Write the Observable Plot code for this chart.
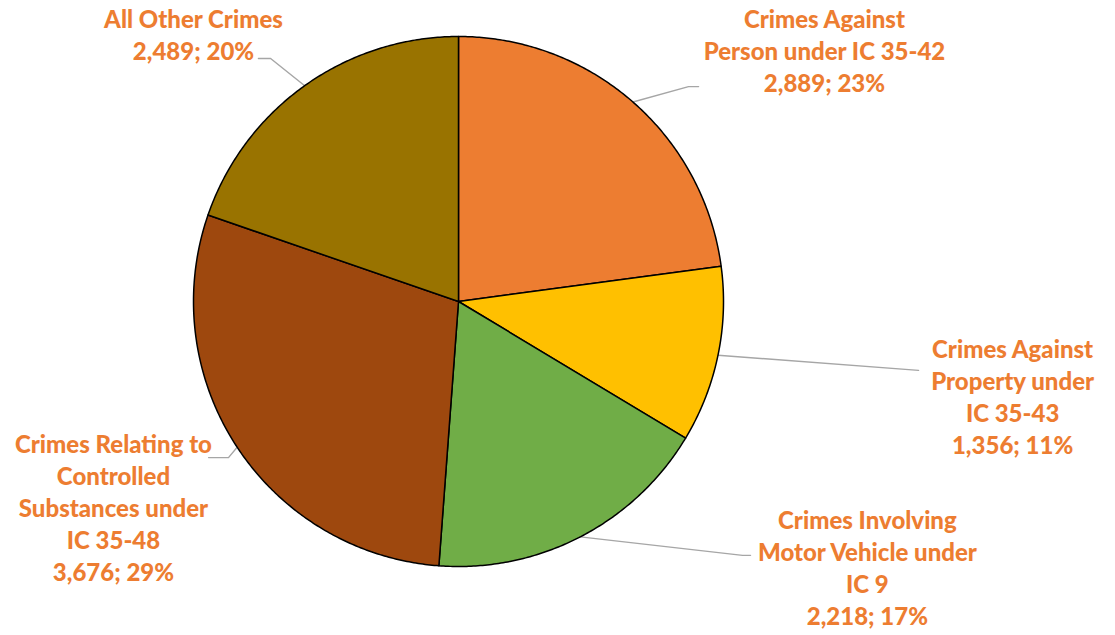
<!DOCTYPE html>
<html>
<head>
<meta charset="utf-8">
<script src="https://cdn.jsdelivr.net/npm/d3@7"></script>
<script src="https://cdn.jsdelivr.net/npm/@observablehq/plot@0.6"></script>
<style>
  html, body { margin: 0; padding: 0; background: #fff; }
  #chart { width: 1115px; height: 635px; }
</style>
</head>
<body>
<div id="chart"></div>
<script>
// ---- data ----
const categories = [
  "Crimes Against Person under IC 35-42",
  "Crimes Against Property under IC 35-43",
  "Crimes Involving Motor Vehicle under IC 9",
  "Crimes Relating to Controlled Substances under IC 35-48",
  "All Other Crimes"
];
const labelNames = [
  "Crimes Against\nPerson under IC 35-42",
  "Crimes Against\nProperty under\nIC 35-43",
  "Crimes Involving\nMotor Vehicle under\nIC 9",
  "Crimes Relating to\nControlled\nSubstances under\nIC 35-48",
  "All Other Crimes"
];
const values = [2889, 1356, 2218, 3676, 2489];
const percentLabels = ["23%", "11%", "17%", "29%", "20%"];

// ---- styling / layout (not data) ----
const colors = ["#ED7D31", "#FFC000", "#70AD47", "#9E480E", "#997300"];
// label anchor (center of text block) and leader-line bend points, in pie-radius units
const labelPos = [[1.381, 0.951], [2.091, -0.357], [1.543, -1.002], [-1.302, -0.775], [-1.0, 1.009]];
const leaderBends = [
  [[0.868, 0.811], [0.906, 0.811]],
  [[1.736, -0.260]],
  [[1.072, -0.958], [1.102, -0.958]],
  [[-0.868, -0.589], [-0.943, -0.589]],
  [[-0.709, 0.917], [-0.755, 0.917]]
];

const rows = categories.map((c, i) => ({name: c, value: values[i]}));
const arcs = d3.pie().sort(null).value(d => d.value).startAngle(0).endAngle(2 * Math.PI)(rows);

// wedges as closed polygons
const wedgePts = [];
arcs.forEach(a => {
  const name = a.data.name;
  wedgePts.push({name, x: 0, y: 0});
  const n = Math.max(2, Math.ceil((a.endAngle - a.startAngle) / (Math.PI / 360)));
  for (let k = 0; k <= n; k++) {
    const t = a.startAngle + (a.endAngle - a.startAngle) * k / n;
    wedgePts.push({name, x: Math.sin(t), y: Math.cos(t)});
  }
});

// leader lines from mid-angle on the rim to label
const leaderPts = [];
arcs.forEach((a, i) => {
  const m = (a.startAngle + a.endAngle) / 2;
  leaderPts.push({name: a.data.name, x: Math.sin(m), y: Math.cos(m)});
  leaderBends[i].forEach(p => leaderPts.push({name: a.data.name, x: p[0], y: p[1]}));
});

const labels = categories.map((c, i) => ({
  name: c,
  text: labelNames[i] + "\n" + d3.format(",")(values[i]) + "; " + percentLabels[i],
  x: labelPos[i][0],
  y: labelPos[i][1]
}));

const chart = Plot.plot({
  width: 1115,
  height: 635,
  margin: 0,
  style: {background: "#fff"},
  x: {domain: [-1, 1], range: [193, 723], axis: null},
  y: {domain: [-1, 1], range: [566, 36], axis: null},
  color: {domain: categories, range: colors},
  marks: [
    Plot.line(leaderPts, {x: "x", y: "y", z: "name", stroke: "#A6A6A6", strokeWidth: 1.4, curve: "linear"}),
    Plot.line(wedgePts, {x: "x", y: "y", z: "name", fill: "name", stroke: "#000", strokeWidth: 1.5, strokeLinejoin: "round", curve: "linear-closed"}),
    Plot.text(labels, {
      x: "x", y: "y", text: "text",
      fill: "#ED7D31", fontSize: 24, fontWeight: 900, fontFamily: "Lato",
      lineHeight: 1.33, lineAnchor: "middle", textAnchor: "middle"
    })
  ]
});
document.getElementById("chart").appendChild(chart);
</script>
</body>
</html>
